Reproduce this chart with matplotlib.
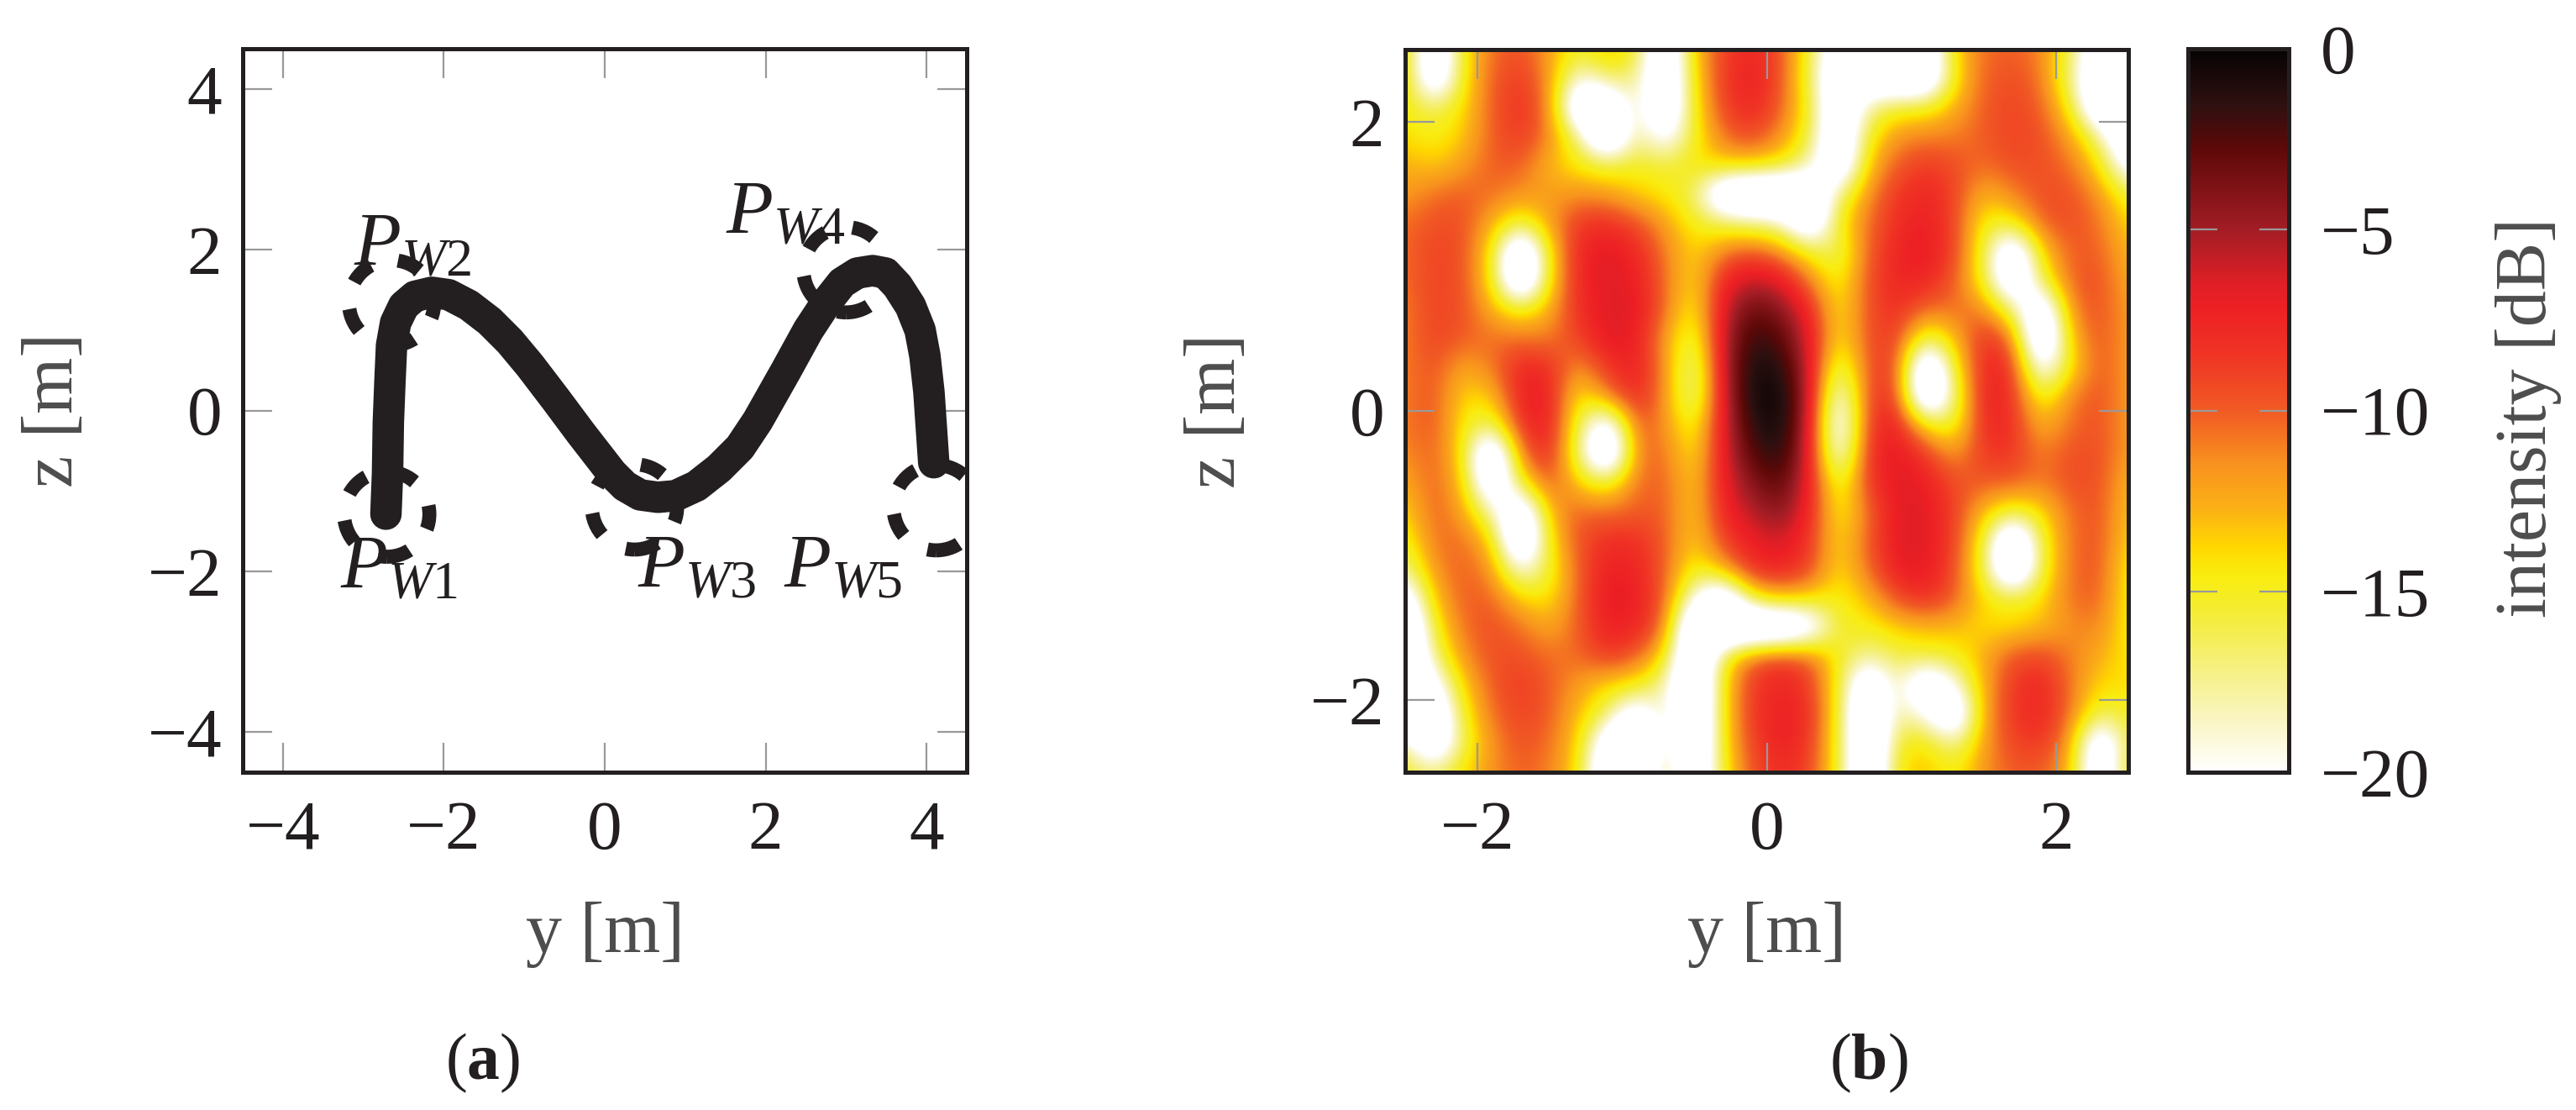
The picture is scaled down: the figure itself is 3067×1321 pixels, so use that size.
import numpy as np
import matplotlib
matplotlib.use("Agg")
import matplotlib.pyplot as plt
from matplotlib.colors import LinearSegmentedColormap
from matplotlib.patches import Circle

plt.rcParams['font.family'] = ['Liberation Serif', 'DejaVu Serif']
plt.rcParams['mathtext.fontset'] = 'custom'
plt.rcParams['mathtext.rm'] = 'Liberation Serif'
plt.rcParams['mathtext.it'] = 'Liberation Serif:italic'
plt.rcParams['mathtext.bf'] = 'Liberation Serif:bold'

# path of the panel (a) curve
path_y = [-2.72, -2.70, -2.69, -2.67, -2.65, -2.60, -2.50, -2.36, -2.15, -1.94, -1.69, -1.43, -1.18,
          -0.93, -0.61, -0.29, 0.09, 0.25, 0.44, 0.66, 0.88, 1.14, 1.42, 1.68, 1.90, 2.25, 2.53,
          2.76, 2.95, 3.14, 3.33, 3.49, 3.64, 3.80, 3.92, 3.98, 4.03, 4.06, 4.09]
path_z = [-1.29, -0.78, -0.15, 0.36, 0.81, 1.09, 1.30, 1.42, 1.47, 1.44, 1.31, 1.11, 0.86,
          0.56, 0.14, -0.29, -0.78, -0.94, -1.05, -1.08, -1.06, -0.94, -0.72, -0.46, -0.13, 0.49, 1.00,
          1.35, 1.59, 1.71, 1.74, 1.71, 1.55, 1.30, 1.00, 0.68, 0.23, -0.21, -0.65]

# waypoint circles and their labels
wp_y = [-2.71, -2.65, 0.37, 3.00, 4.12]
wp_z = [-1.29, 1.34, -1.20, 1.75, -1.21]
wp_r = 0.53
wp_labels = ["$P_{W1}$", "$P_{W2}$", "$P_{W3}$", "$P_{W4}$", "$P_{W5}$"]
wp_label_y = [-3.29, -3.12, 0.41, 1.50, 2.22]
wp_label_z = [-2.21, 1.80, -2.20, 2.20, -2.20]

# intensity map in dB, top row first, 0.2 m spacing (below -20 is all white)
intensity_db = [
    [-13, -26, -14.5, -10.5, -9.5, -12, -15.5, -12.5, -15, -26, -13, -9, -7.5, -9.5, -15.5, -24, -18, -24, -25, -13.5, -10.5, -10, -11, -16, -24, -17],
    [-13, -26, -14.5, -10, -8.5, -11.5, -20, -16.5, -17, -26, -14, -8.5, -7, -9.5, -16, -26, -24, -26, -26, -14.5, -10, -9.5, -10.5, -17, -26, -24],
    [-14.5, -16.5, -14, -10, -8, -11, -26, -26, -17, -26, -14.5, -9, -7.5, -10, -15, -26, -17.5, -15, -15, -12.5, -10, -9, -10, -14.5, -26, -26],
    [-14, -15, -13.5, -10, -8.5, -11, -17, -28, -16.5, -22, -15, -10.5, -9, -11.5, -15.5, -26, -15, -11.5, -11, -11, -10, -9, -9.5, -12, -17, -26],
    [-12.5, -13.5, -12, -10, -10, -13, -14.5, -15.5, -15, -15.5, -14.5, -13.5, -13.5, -14.5, -18, -26, -13, -10, -8.5, -9.5, -10.5, -9.5, -9.5, -10.5, -14, -22],
    [-12, -10.5, -10, -10.5, -11.5, -12, -11.5, -12, -13.5, -14.5, -16.5, -26, -28, -28, -26, -17, -11.5, -8.5, -7.5, -9, -13, -11, -9.5, -9.5, -11.5, -16],
    [-10.5, -9.5, -9.5, -12.5, -16, -12, -8.5, -8, -9.5, -12, -15, -16, -17, -18, -26, -14.5, -10.5, -8, -7, -9, -15, -15, -10, -9.5, -10.5, -14],
    [-10.5, -9, -9.5, -14, -28, -14, -7.5, -6.5, -7.5, -11, -14, -11, -9.5, -11.5, -15, -17, -10, -7.5, -6.5, -9, -15.5, -26, -13.5, -10, -10, -13],
    [-10.5, -9, -9.5, -14, -28, -14, -7.5, -6.5, -7, -10.5, -14.5, -7.5, -5.5, -6.5, -11, -15.5, -9.5, -7.5, -7.5, -10, -15, -26, -16, -10, -9.5, -12.5],
    [-11, -9, -9.5, -12.5, -15, -12.5, -8, -6.5, -6.5, -10.5, -15.5, -6, -3, -4, -7.5, -15, -9.5, -8, -10.5, -10.5, -11, -16.5, -26, -11, -9.5, -12],
    [-11, -9, -10, -10.5, -10.5, -11, -9, -6.5, -7, -12, -17, -5.5, -1.5, -2.5, -6.5, -15, -9.5, -8.5, -17, -13, -8, -10, -28, -13, -9.5, -12],
    [-11, -9.5, -12.5, -11, -7.5, -8, -12, -8.5, -7, -11.5, -19, -5.5, -0.7, -1, -6, -18, -9.5, -8.5, -28, -15, -7.5, -8, -22, -14.5, -9.5, -12],
    [-11, -9.5, -14, -13.5, -7, -7, -15, -11, -7.5, -11.5, -19, -6, -0.5, -0.2, -5.5, -22, -9, -8, -28, -17, -7, -8, -16, -11, -9.5, -12],
    [-11, -9.5, -14.5, -17, -8, -7, -16, -24, -9.5, -11.5, -16, -6.5, -1.2, -0.3, -6, -24, -8.5, -7, -14, -16, -7.5, -8, -13, -10.5, -9.5, -12],
    [-11.5, -10, -14, -28, -10.5, -7.5, -17, -28, -10.5, -10.5, -15, -6.5, -2.5, -1, -6.5, -22, -8, -6.5, -8.5, -12, -8.5, -8.5, -11, -9.5, -9.5, -12],
    [-12.5, -10, -13, -26, -15, -9.5, -13.5, -15.5, -10.5, -10, -14, -7, -4, -2.5, -7, -17, -8.5, -6.5, -7, -9.5, -10, -10, -11, -9.5, -9.5, -13],
    [-14, -10, -12, -18, -26, -12.5, -10, -10.5, -10, -10, -14, -7.5, -5.5, -4, -7.5, -15.5, -10.5, -6.5, -6.5, -9, -13, -16, -14, -10.5, -9.5, -13.5],
    [-15.5, -10.5, -10.5, -13, -28, -14, -9.5, -8, -8, -10, -14, -9, -7, -6, -8.5, -14.5, -10, -6.5, -6.5, -9, -15, -28, -15.5, -10.5, -9.5, -14],
    [-18, -11.5, -10, -11.5, -20, -15.5, -10, -7, -7.5, -10, -15.5, -12.5, -8, -7.5, -9, -14.5, -10.5, -7, -6.5, -9.5, -15.5, -28, -15.5, -10.5, -9.5, -15],
    [-24, -13, -10, -10, -13.5, -14.5, -10, -6.5, -7, -10, -20, -26, -15, -13, -14, -15, -13, -9.5, -8, -10, -14, -15, -14, -10.5, -10, -15],
    [-28, -15, -10.5, -9.5, -10.5, -12.5, -10, -7, -7.5, -10.5, -28, -28, -28, -28, -24, -15, -15, -13.5, -13, -13, -14, -14, -13, -11.5, -11, -15],
    [-28, -17, -11.5, -9.5, -9.5, -10.5, -10.5, -8.5, -10, -14, -28, -15, -10, -8.5, -10, -15, -18, -16, -15.5, -15, -12.5, -9.5, -9, -11, -12.5, -14.5],
    [-28, -22, -13.5, -10, -8.5, -10, -12, -14, -14.5, -18, -28, -14, -8.5, -7.5, -8.5, -15, -26, -17, -26, -20, -12.5, -8.5, -7.5, -10.5, -14, -14],
    [-28, -26, -15, -10.5, -9, -10, -13, -16.5, -24, -17, -28, -14, -8.5, -7, -8, -15, -28, -17, -20, -26, -12, -8.5, -7.5, -10.5, -16.5, -15],
    [-17, -26, -16, -11.5, -9.5, -10.5, -13.5, -24, -28, -17, -28, -14, -9, -7, -8.5, -15, -28, -15, -14, -18, -12, -9, -8.5, -11.5, -26, -15],
    [-15, -17, -14, -11.5, -10, -11, -14, -26, -28, -15, -26, -15, -9.5, -8, -9, -15, -28, -14, -13, -15, -11.5, -10, -10, -12.5, -26, -14],
]

# colour scale
cmap_db = [-20, -18.5, -17, -15.5, -14.6, -13.8, -12.7, -11.5, -10, -8.5, -7.2, -6.5, -5, -2.7, -1.5, 0]
cmap_colors = ['#ffffff', '#f9f5c0', '#f5f07a', '#f4ec30', '#f9ed10', '#ffd800', '#fbb016', '#f8921e',
               '#f15a24', '#f03525', '#ed2024', '#e01f26', '#a31d25', '#5c0808', '#2d1010', '#060303']

ticks_a = [-4, -2, 0, 2, 4]
ticks_b = [-2, 0, 2]
ticks_cb = [-20, -15, -10, -5, 0]

dark = '#231f20'
gray_label = '#4d4d4d'
gray_tick = '#999999'
tick_fs = 60
label_fs = 62

W, H = 3067, 1321
fig = plt.figure(figsize=(W / 100, H / 100), dpi=100)


def box(x0, x1, y0, y1):
    return [x0 / W, 1 - y1 / H, (x1 - x0) / W, (y1 - y0) / H]


def style(ax, xt, yt):
    ax.set_xticks(xt)
    ax.set_yticks(yt)
    ax.set_xticklabels([str(t).replace('-', '\u2212') for t in xt])
    ax.set_yticklabels([str(t).replace('-', '\u2212') for t in yt])
    ax.tick_params(axis='both', which='major', direction='in', length=25, width=1.6,
                   color=gray_tick, top=True, right=True, labelsize=tick_fs, labelcolor=dark)
    ax.tick_params(axis='x', pad=24)
    ax.tick_params(axis='y', pad=18)
    for s in ax.spines.values():
        s.set_linewidth(3.6)
        s.set_color(dark)
    ax.set_xlabel("y [m]", fontsize=label_fs, color=gray_label, va='center')
    ax.set_ylabel("z [m]", fontsize=label_fs, color=gray_label, va='center')
    ax.xaxis.set_label_coords(0.5, -0.225)
    ax.yaxis.set_label_coords(-0.26, 0.5)


# (a)
ax = fig.add_axes(box(289, 1151, 58, 919))
ax.plot(path_y, path_z, color=dark, lw=27, solid_capstyle='round', solid_joinstyle='round', zorder=3)
for cy, cz in zip(wp_y, wp_z):
    ax.add_patch(Circle((cy, cz), wp_r, fill=False, ec=dark, lw=12, ls=(0, (1.7, 2.0)), zorder=2))
for lab, ly, lz in zip(wp_labels, wp_label_y, wp_label_z):
    ax.text(ly, lz, lab, fontsize=66, color=dark, ha='left', va='baseline', zorder=4)
ax.set_xlim(-4.5, 4.5)
ax.set_ylim(-4.5, 4.5)
style(ax, ticks_a, ticks_a)

# (b)
norm_pos = [(d + 20) / 20 for d in cmap_db]
cmap = LinearSegmentedColormap.from_list('intensity', list(zip(norm_pos, cmap_colors)), N=512)
bx = fig.add_axes(box(1673, 2534, 59, 919))
im = bx.imshow(np.array(intensity_db), cmap=cmap, vmin=-20, vmax=0, aspect='auto', origin='upper',
               extent=[-2.6, 2.6, -2.6, 2.6], interpolation='bicubic', interpolation_stage='data')
bx.set_xlim(-2.5, 2.5)
bx.set_ylim(-2.5, 2.5)
style(bx, ticks_b, ticks_b)

# colour bar
cax = fig.add_axes(box(2605, 2725, 58, 919))
cb = fig.colorbar(im, cax=cax)
cb.set_ticks(ticks_cb)
cb.set_ticklabels([str(t).replace('-', '\u2212') for t in ticks_cb])
cax.yaxis.set_ticks_position('both')
cax.tick_params(axis='y', which='major', direction='in', length=25, width=1.6, color=gray_tick,
                left=True, right=True, labelright=True, labelleft=False, labelsize=tick_fs,
                labelcolor=dark, pad=27)
cb.outline.set_linewidth(3.6)
cb.outline.set_edgecolor(dark)
cb.set_label("intensity [dB]", fontsize=label_fs, color=gray_label, va='center')
cax.yaxis.set_label_coords(3.38, 0.49)

fig.text(575 / W, 1 - 1265 / H, r"($\mathbf{a}$)", fontsize=56, color=dark, ha='center', va='center')
fig.text(2225 / W, 1 - 1265 / H, r"($\mathbf{b}$)", fontsize=56, color=dark, ha='center', va='center')

fig.savefig("out.png", dpi=100)
